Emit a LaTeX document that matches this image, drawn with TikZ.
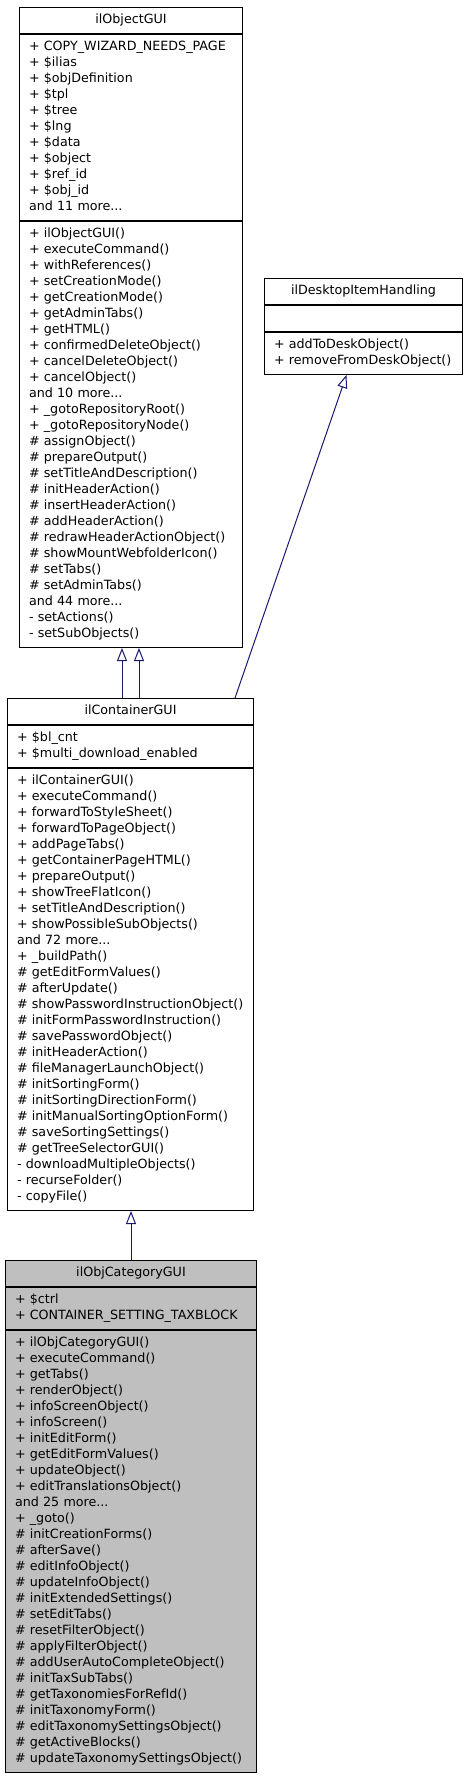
\documentclass[tikz,border=0pt]{standalone}
\usepackage{fontspec}
\setmainfont{DejaVu Sans}
\usetikzlibrary{positioning, arrows.meta}

% One member line of a class box
\newcommand{\member}[1]{\mbox{\strut#1}}

\begin{document}
\begin{tikzpicture}[x=1pt, y=-1pt,
    every node/.style={font=\fontsize{12.7}{16}\selectfont},
    part/.style={draw=borderColour, line width=1pt, inner xsep=9.5pt, inner ysep=5pt,
        anchor=north west, align=left, text width=#1},
    title/.style={part=#1, align=center},
    inherit/.style={draw=edgeColour, line width=1pt,
        -{Triangle[open, length=13pt, width=10pt]}}]
    % Define colours
    \definecolor{borderColour}{HTML}{000000}
    \definecolor{edgeColour}{HTML}{191970}
    \definecolor{fillColour}{HTML}{BFBFBF}

    % Fix the page size
    \useasboundingbox (0,0) rectangle (471,1779);

    % ilObjectGUI
    \node[title=204pt] (objt) at (19,7) {\member{ilObjectGUI}};
    \node[part=204pt, below=0pt of objt] (obja) {%
        \member{+ COPY\_WIZARD\_NEEDS\_PAGE}\\ \member{+ \$ilias}\\
        \member{+ \$objDefinition}\\ \member{+ \$tpl}\\ \member{+ \$tree}\\
        \member{+ \$lng}\\ \member{+ \$data}\\ \member{+ \$object}\\
        \member{+ \$ref\_id}\\ \member{+ \$obj\_id}\\ \member{and 11 more...}};
    \node[part=204pt, below=0pt of obja] (objm) {%
        \member{+ ilObjectGUI()}\\ \member{+ executeCommand()}\\
        \member{+ withReferences()}\\ \member{+ setCreationMode()}\\
        \member{+ getCreationMode()}\\ \member{+ getAdminTabs()}\\
        \member{+ getHTML()}\\ \member{+ confirmedDeleteObject()}\\
        \member{+ cancelDeleteObject()}\\ \member{+ cancelObject()}\\
        \member{and 10 more...}\\ \member{+ \_gotoRepositoryRoot()}\\
        \member{+ \_gotoRepositoryNode()}\\ \member{\# assignObject()}\\
        \member{\# prepareOutput()}\\ \member{\# setTitleAndDescription()}\\
        \member{\# initHeaderAction()}\\ \member{\# insertHeaderAction()}\\
        \member{\# addHeaderAction()}\\ \member{\# redrawHeaderActionObject()}\\
        \member{\# showMountWebfolderIcon()}\\ \member{\# setTabs()}\\
        \member{\# setAdminTabs()}\\ \member{and 44 more...}\\
        \member{- setActions()}\\ \member{- setSubObjects()}};

    % ilDesktopItemHandling
    \node[title=179pt] (deskt) at (264,278) {\member{ilDesktopItemHandling}};
    \node[part=179pt, below=0pt of deskt] (deska) {\member{}};
    \node[part=179pt, below=0pt of deska] (deskm) {%
        \member{+ addToDeskObject()}\\ \member{+ removeFromDeskObject()}};

    % ilContainerGUI
    \node[title=227pt] (contt) at (7,698) {\member{ilContainerGUI}};
    \node[part=227pt, below=0pt of contt] (conta) {%
        \member{+ \$bl\_cnt}\\ \member{+ \$multi\_download\_enabled}};
    \node[part=227pt, below=0pt of conta] (contm) {%
        \member{+ ilContainerGUI()}\\ \member{+ executeCommand()}\\
        \member{+ forwardToStyleSheet()}\\ \member{+ forwardToPageObject()}\\
        \member{+ addPageTabs()}\\ \member{+ getContainerPageHTML()}\\
        \member{+ prepareOutput()}\\ \member{+ showTreeFlatIcon()}\\
        \member{+ setTitleAndDescription()}\\ \member{+ showPossibleSubObjects()}\\
        \member{and 72 more...}\\ \member{+ \_buildPath()}\\
        \member{\# getEditFormValues()}\\ \member{\# afterUpdate()}\\
        \member{\# showPasswordInstructionObject()}\\
        \member{\# initFormPasswordInstruction()}\\
        \member{\# savePasswordObject()}\\ \member{\# initHeaderAction()}\\
        \member{\# fileManagerLaunchObject()}\\ \member{\# initSortingForm()}\\
        \member{\# initSortingDirectionForm()}\\
        \member{\# initManualSortingOptionForm()}\\
        \member{\# saveSortingSettings()}\\ \member{\# getTreeSelectorGUI()}\\
        \member{- downloadMultipleObjects()}\\ \member{- recurseFolder()}\\
        \member{- copyFile()}};

    % ilObjCategoryGUI
    \node[title=232pt, fill=fillColour] (catt) at (5,1260) {\member{ilObjCategoryGUI}};
    \node[part=232pt, fill=fillColour, below=0pt of catt] (cata) {%
        \member{+ \$ctrl}\\ \member{+ CONTAINER\_SETTING\_TAXBLOCK}};
    \node[part=232pt, fill=fillColour, below=0pt of cata] (catm) {%
        \member{+ ilObjCategoryGUI()}\\ \member{+ executeCommand()}\\
        \member{+ getTabs()}\\ \member{+ renderObject()}\\
        \member{+ infoScreenObject()}\\ \member{+ infoScreen()}\\
        \member{+ initEditForm()}\\ \member{+ getEditFormValues()}\\
        \member{+ updateObject()}\\ \member{+ editTranslationsObject()}\\
        \member{and 25 more...}\\ \member{+ \_goto()}\\
        \member{\# initCreationForms()}\\ \member{\# afterSave()}\\
        \member{\# editInfoObject()}\\ \member{\# updateInfoObject()}\\
        \member{\# initExtendedSettings()}\\ \member{\# setEditTabs()}\\
        \member{\# resetFilterObject()}\\ \member{\# applyFilterObject()}\\
        \member{\# addUserAutoCompleteObject()}\\ \member{\# initTaxSubTabs()}\\
        \member{\# getTaxonomiesForRefId()}\\ \member{\# initTaxonomyForm()}\\
        \member{\# editTaxonomySettingsObject()}\\ \member{\# getActiveBlocks()}\\
        \member{\# updateTaxonomySettingsObject()}};

    % Draw inheritance arrows
    \foreach \dx in {-8.5,8.5}
        \draw[inherit] ([xshift=\dx pt]contt.north) -- ([xshift=\dx pt]contt.north |- objm.south);
    \draw[inherit] ([xshift=-19pt]contt.north east) -- ([xshift=-17pt]deskm.south);
    \draw[inherit] (catt.north) -- (catt.north |- contm.south);

\end{tikzpicture}
\end{document}
